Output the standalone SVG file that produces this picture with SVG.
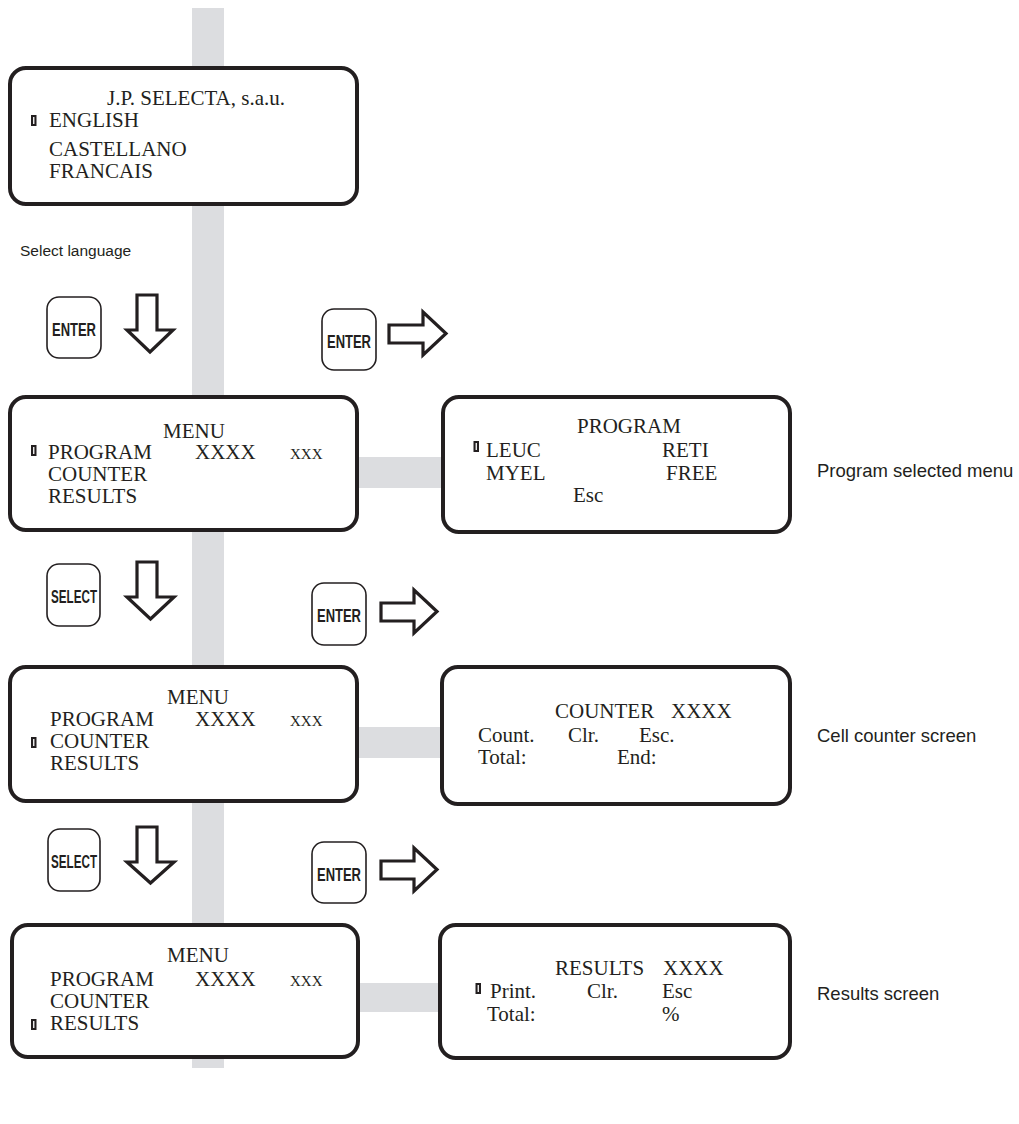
<svg xmlns="http://www.w3.org/2000/svg" width="1019" height="1124" viewBox="0 0 1019 1124">
<defs>
<style>
.scr{fill:#fff;stroke:#231f20;stroke-width:4}
.lcd{font-family:"Liberation Serif","Times New Roman",serif;font-size:21px;fill:#231f20}
.sc{font-variant:small-caps}
.btn{fill:#fff;stroke:#231f20;stroke-width:1.6}
.bt{font-family:"Liberation Sans",Arial,sans-serif;font-weight:bold;font-size:19px;fill:#231f20}
.arr{fill:#fff;stroke:#231f20;stroke-width:3.2;stroke-linejoin:miter}
.lab{font-family:"Liberation Sans",Arial,sans-serif;font-size:18.5px;fill:#231f20}
.lab2{font-family:"Liberation Sans",Arial,sans-serif;font-size:15.5px;fill:#231f20}
.gray{fill:#dcdde0}
</style>
<g id="cur"><rect x="0" y="0" width="5.5" height="11" fill="#231f20"/><rect x="2.1" y="2" width="1.3" height="7" fill="#fff"/></g>
</defs>
<rect width="1019" height="1124" fill="#fff"/>
<g id="connectors">
<rect class="gray" x="192" y="8" width="32" height="1060"/>
<rect class="gray" x="355" y="457" width="90" height="31"/>
<rect class="gray" x="355" y="727" width="90" height="31"/>
<rect class="gray" x="355" y="983" width="90" height="29"/>
</g>
<g id="screen-language">
<rect class="scr" x="10" y="68" width="347" height="136" rx="16"/>
<text class="lcd" x="107" y="105">J.P. SELECTA, s.a.u.</text>
<use href="#cur" x="31" y="115"/>
<text class="lcd" x="49" y="127">ENGLISH</text>
<text class="lcd" x="49" y="156">CASTELLANO</text>
<text class="lcd" x="49" y="178">FRANCAIS</text>
</g>
<g id="label-select-language"><text class="lab2" x="20" y="256">Select language</text></g>
<g id="btn-enter-1">
<rect class="btn" x="47" y="297" width="54" height="61" rx="12"/>
<text class="bt" x="52" y="336" textLength="44" lengthAdjust="spacingAndGlyphs">ENTER</text>
</g>
<g id="arrow-down-1"><polygon class="arr" points="137,295 157,295 157,330 173,330 150,352 127,330 137,330"/></g>
<g id="btn-enter-2">
<rect class="btn" x="322" y="309" width="54" height="61" rx="12"/>
<text class="bt" x="327" y="348" textLength="44" lengthAdjust="spacingAndGlyphs">ENTER</text>
</g>
<g id="arrow-right-1"><polygon class="arr" points="389,325 423,325 423,312 446,333.5 423,355 423,343 389,343"/></g>
<g id="screen-menu-program">
<rect class="scr" x="10" y="397" width="347" height="133" rx="16"/>
<text class="lcd" x="163" y="438">MENU</text>
<use href="#cur" x="31" y="445"/>
<text class="lcd" x="48" y="459">PROGRAM</text>
<text class="lcd" x="195" y="459">XXXX</text>
<text class="lcd sc" x="290" y="459">xxx</text>
<text class="lcd" x="48" y="481">COUNTER</text>
<text class="lcd" x="48" y="503">RESULTS</text>
</g>
<g id="screen-program">
<rect class="scr" x="443" y="397" width="347" height="135" rx="16"/>
<text class="lcd" x="577" y="433">PROGRAM</text>
<use href="#cur" x="473.5" y="441"/>
<text class="lcd" x="486" y="457">LEUC</text>
<text class="lcd" x="662" y="457">RETI</text>
<text class="lcd" x="486" y="480">MYEL</text>
<text class="lcd" x="666" y="480">FREE</text>
<text class="lcd" x="573" y="502">Esc</text>
</g>
<g id="label-program"><text class="lab" x="817" y="477">Program selected menu</text></g>
<g id="btn-select-1">
<rect class="btn" x="47" y="564" width="53" height="62" rx="12"/>
<text class="bt" x="51" y="603" textLength="46" lengthAdjust="spacingAndGlyphs">SELECT</text>
</g>
<g id="arrow-down-2"><polygon class="arr" points="137,562 157,562 157,597 174,597 150.5,619 127,597 137,597"/></g>
<g id="btn-enter-3">
<rect class="btn" x="312" y="583" width="54" height="62" rx="12"/>
<text class="bt" x="317" y="622" textLength="44" lengthAdjust="spacingAndGlyphs">ENTER</text>
</g>
<g id="arrow-right-2"><polygon class="arr" points="381,603 414,603 414,590 437,611.5 414,633 414,621 381,621"/></g>
<g id="screen-menu-counter">
<rect class="scr" x="10" y="667" width="347" height="134" rx="16"/>
<text class="lcd" x="167" y="704">MENU</text>
<text class="lcd" x="50" y="726">PROGRAM</text>
<text class="lcd" x="195" y="726">XXXX</text>
<text class="lcd sc" x="290" y="726">xxx</text>
<use href="#cur" x="31" y="737"/>
<text class="lcd" x="50" y="748">COUNTER</text>
<text class="lcd" x="50" y="770">RESULTS</text>
</g>
<g id="screen-counter">
<rect class="scr" x="442" y="667" width="348" height="137" rx="16"/>
<text class="lcd" x="555" y="718">COUNTER</text>
<text class="lcd" x="671" y="718">XXXX</text>
<text class="lcd" x="478" y="742">Count.</text>
<text class="lcd" x="568" y="742">Clr.</text>
<text class="lcd" x="639" y="742">Esc.</text>
<text class="lcd" x="478" y="764">Total:</text>
<text class="lcd" x="617" y="764">End:</text>
</g>
<g id="label-counter"><text class="lab" x="817" y="742">Cell counter screen</text></g>
<g id="btn-select-2">
<rect class="btn" x="48" y="829" width="52" height="62" rx="12"/>
<text class="bt" x="51" y="868" textLength="46" lengthAdjust="spacingAndGlyphs">SELECT</text>
</g>
<g id="arrow-down-3"><polygon class="arr" points="137,827 157,827 157,862 174,862 150.5,883 127,862 137,862"/></g>
<g id="btn-enter-4">
<rect class="btn" x="312" y="842" width="54" height="61" rx="12"/>
<text class="bt" x="317" y="881" textLength="44" lengthAdjust="spacingAndGlyphs">ENTER</text>
</g>
<g id="arrow-right-3"><polygon class="arr" points="381,861 414,861 414,848 437,869.5 414,891 414,879 381,879"/></g>
<g id="screen-menu-results">
<rect class="scr" x="12" y="925" width="346" height="132" rx="16"/>
<text class="lcd" x="167" y="962">MENU</text>
<text class="lcd" x="50" y="986">PROGRAM</text>
<text class="lcd" x="195" y="986">XXXX</text>
<text class="lcd sc" x="290" y="986">xxx</text>
<text class="lcd" x="50" y="1008">COUNTER</text>
<use href="#cur" x="31" y="1019"/>
<text class="lcd" x="50" y="1030">RESULTS</text>
</g>
<g id="screen-results">
<rect class="scr" x="440" y="925" width="350" height="133" rx="16"/>
<text class="lcd" x="555" y="975">RESULTS</text>
<text class="lcd" x="663" y="975">XXXX</text>
<use href="#cur" x="475.5" y="983"/>
<text class="lcd" x="490" y="998">Print.</text>
<text class="lcd" x="587" y="998">Clr.</text>
<text class="lcd" x="662" y="998">Esc</text>
<text class="lcd" x="487" y="1021">Total:</text>
<text class="lcd" x="662" y="1021">%</text>
</g>
<g id="label-results"><text class="lab" x="817" y="1000">Results screen</text></g>
</svg>
